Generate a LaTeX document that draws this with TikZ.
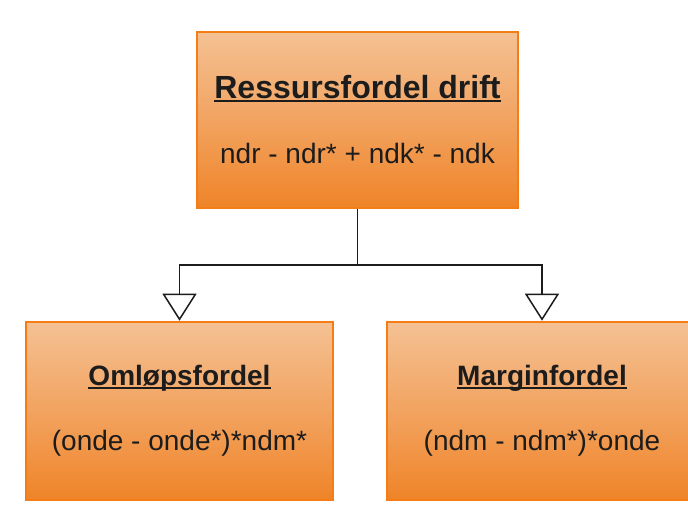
\documentclass[tikz,border=0pt]{standalone}
\usepackage{fontspec}
\setmainfont{Liberation Sans}
\usetikzlibrary{arrows.meta}
\definecolor{boxedge}{HTML}{F47D18}
\definecolor{boxtop}{HTML}{F4C193}
\definecolor{boxmid}{HTML}{F2A360}
\definecolor{boxbot}{HTML}{EF8428}
\definecolor{ink}{HTML}{1C1C1C}
% underlined heading with a fixed rule offset below the baseline
\newcommand\headline[1]{\setbox0\hbox{\bfseries #1}\rlap{\rule[-3.5pt]{\wd0}{2.2pt}}\box0}
\tikzset{
  fbox/.style={draw=boxedge, line width=2.6pt, rectangle,
    top color=boxtop, bottom color=boxbot, middle color=boxmid,
    text=ink, align=center, inner sep=0pt,
    font=\fontsize{28}{65}\selectfont},
  link/.style={line width=1.5pt, draw=ink,
    -{Triangle[length=27pt, width=34pt, fill=white, line width=1.5pt]}}
}
\begin{document}
\begin{tikzpicture}[x=1pt, y=1pt]
\clip (0,0) rectangle (688,514);
\fill[white] (0,0) rectangle (688,514);

\node[fbox, minimum width=321pt, minimum height=176pt] (drift) at (357.5,394)
  {{\fontsize{32}{65}\selectfont\headline{Ressursfordel drift}}\\ndr - ndr* + ndk* - ndk};
\node[fbox, minimum width=307pt, minimum height=178pt] (omlop) at (179.5,103)
  {\headline{Omløpsfordel}\\(onde - onde*)*ndm*};
\node[fbox, minimum width=310pt, minimum height=178pt] (margin) at (542,103)
  {\headline{Marginfordel}\\(ndm - ndm*)*onde};

\coordinate (split) at (357.5,249);
\draw[link] (drift.south) -- (split) -| (omlop.north);
\draw[link] (split) -| (margin.north);
\end{tikzpicture}
\end{document}
